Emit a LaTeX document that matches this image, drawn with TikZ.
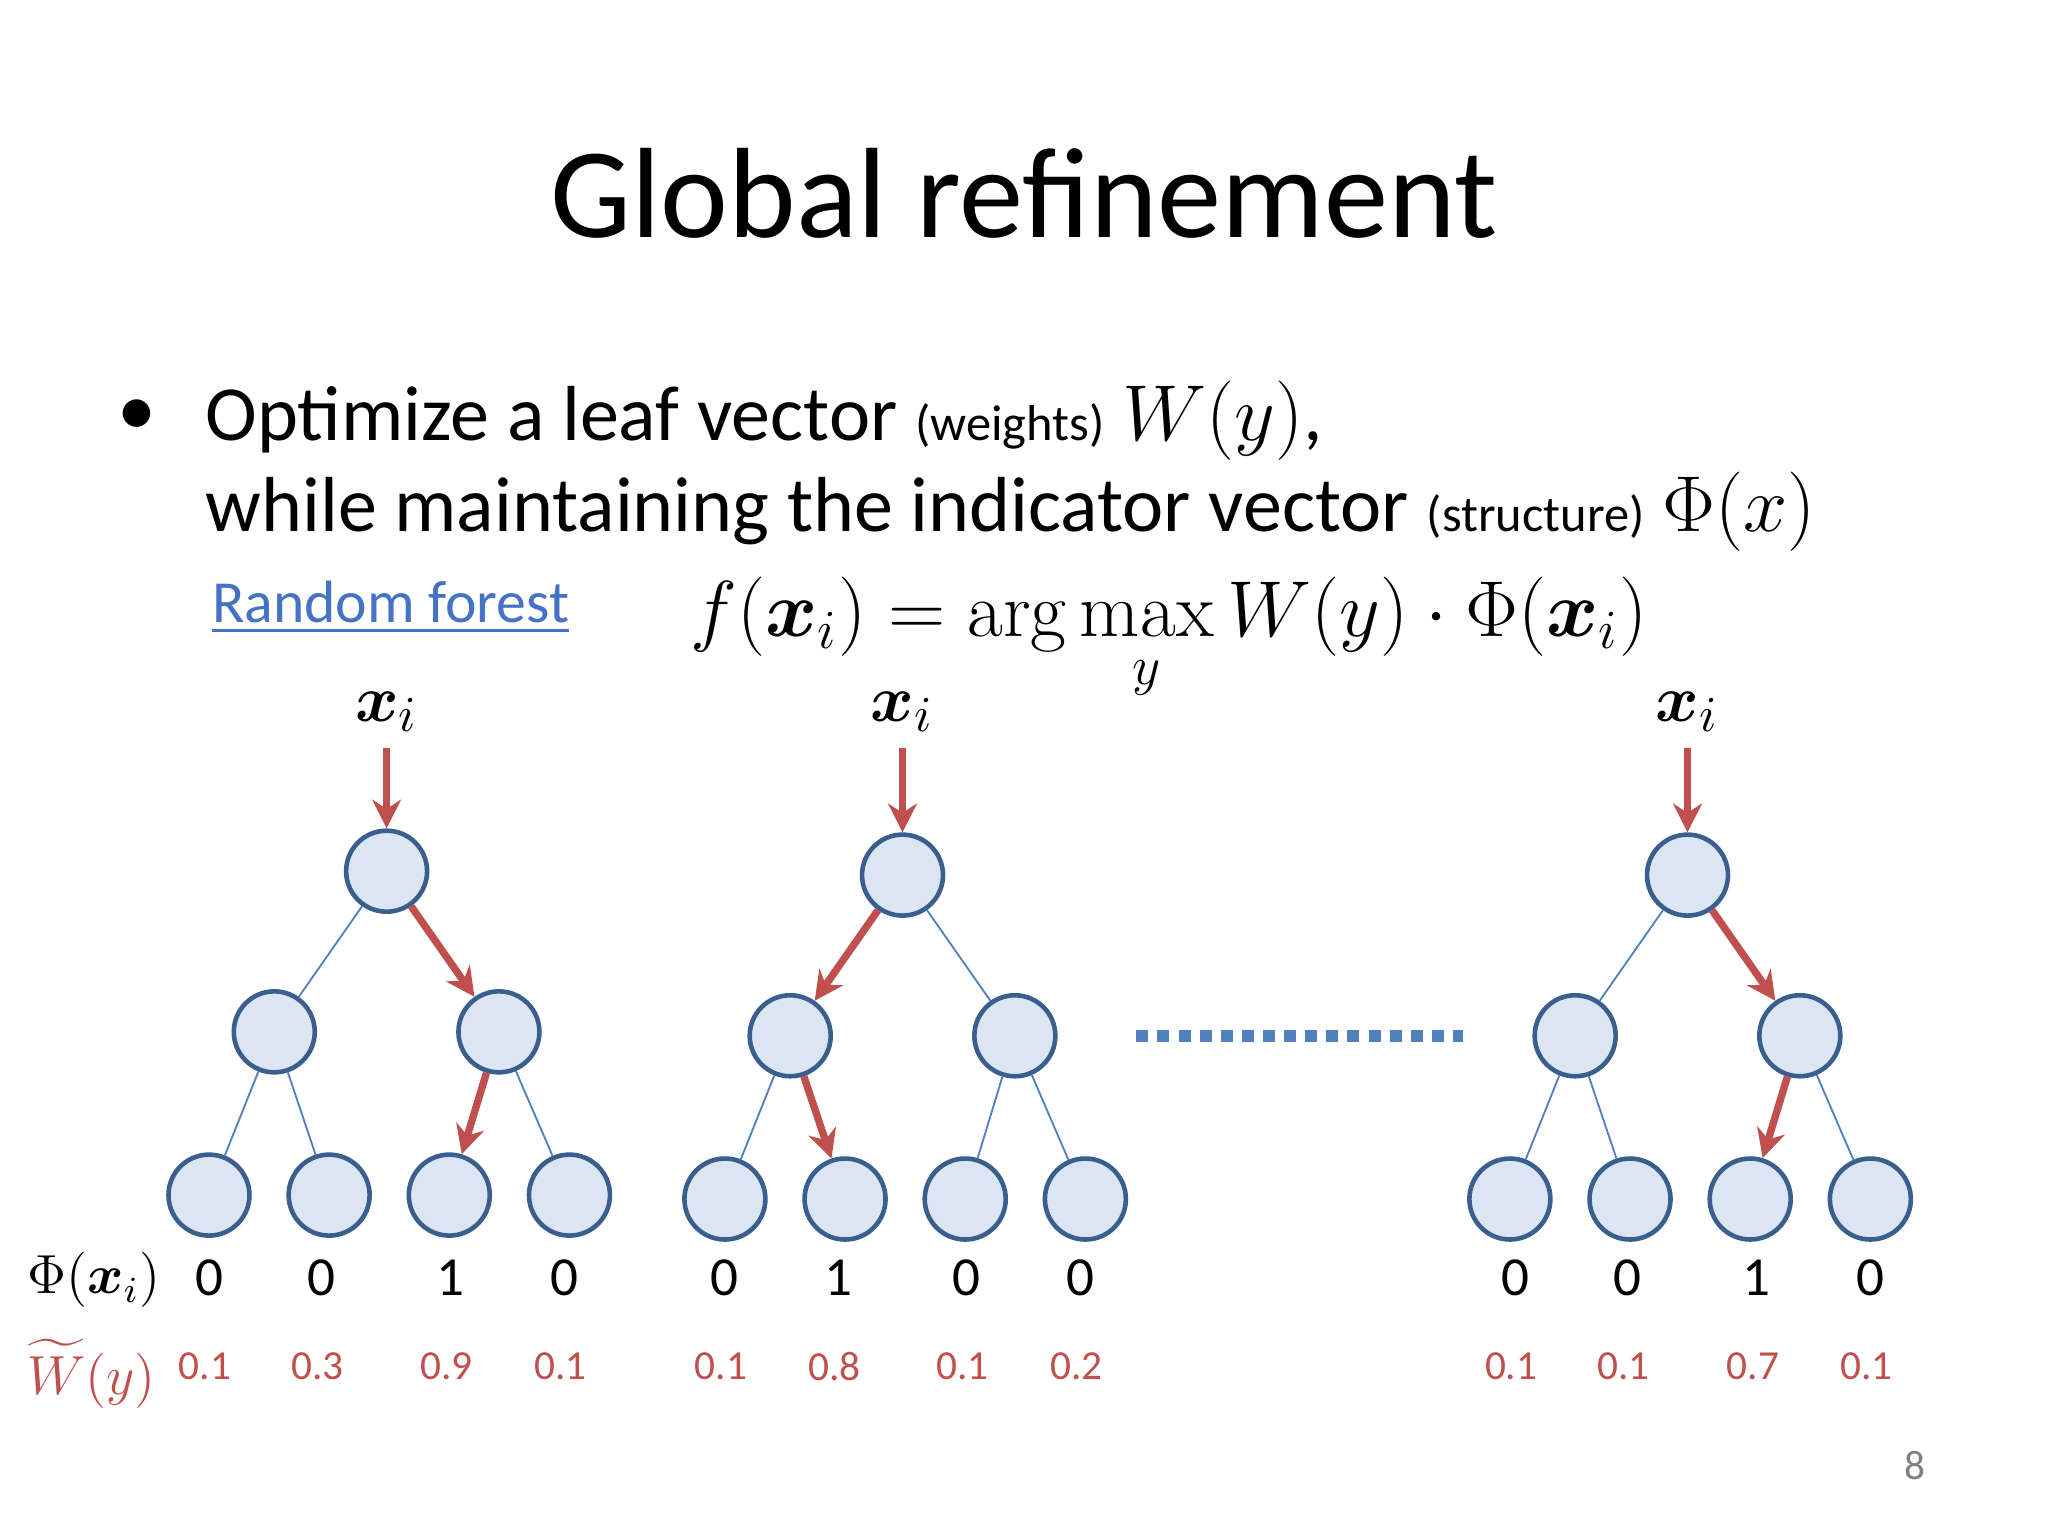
\documentclass[tikz,border=0pt]{standalone}
\usepackage{amsmath}
\usepackage{fontspec}
\setmainfont{Carlito}
\setmathrm{Latin Modern Roman}
\usetikzlibrary{arrows.meta}
\definecolor{nfill}{HTML}{DCE6F2}
\definecolor{nborder}{HTML}{3A5F8F}
\definecolor{ledge}{HTML}{4F81BD}
\definecolor{rarr}{HTML}{C0504D}
\definecolor{linkc}{HTML}{4472C4}
\tikzset{
 tn/.style={circle,draw=nborder,fill=nfill,line width=1pt,minimum size=6.2mm,inner sep=0pt},
 te/.style={draw=ledge,line width=0.4pt},
 ra/.style={draw=rarr,line width=1.6pt,-{Stealth[length=2.2mm,width=2.2mm]}},
 phi/.style={font=\fontsize{12}{14}\selectfont},
 wt/.style={font=\fontsize{9}{11}\selectfont,text=rarr},
}
\begin{document}
\begin{tikzpicture}[x=0.1mm,y=-0.1mm]
\useasboundingbox[fill=white] (0,0) rectangle (1568,1176);
\node[font=\fontsize{28}{32}\selectfont] (title) at (784,148) {Global refinement};
\node[font=\fontsize{17}{20}\selectfont] (bul) at (105,320) {\textbullet};
\node[anchor=west,font=\fontsize{17}{20}\selectfont] (l1) at (145,322) {Optimize a leaf vector {\fontsize{11}{12}\selectfont (weights)} $W(y)$,};
\node[anchor=west,font=\fontsize{17}{20}\selectfont] (l2) at (145,392) {while maintaining the indicator vector {\fontsize{11}{12}\selectfont (structure)} $\Phi(x)$};
\node[anchor=west,font=\fontsize{13}{15}\selectfont,text=linkc] (rf) at (150,465) {\underline{Random forest}};
\node[font=\fontsize{17}{20}\selectfont,inner sep=1pt] (eq) at (895,490) {$f(\boldsymbol{x}_i)=\arg\max\limits_{y} W(y)\cdot\Phi(\boldsymbol{x}_i)$};

\foreach \t/\rx/\ay in {a/296/667, b/691/670, c/1292/670}{
 \node[font=\fontsize{15}{17}\selectfont] (x\t) at (\rx,545) {$\boldsymbol{x}_i$};
 \node[tn] (\t r) at (\rx,\ay) {};
 \node[tn] (\t L) at (\rx-86,\ay+123) {};
 \node[tn] (\t R) at (\rx+86,\ay+123) {};
 \node[tn] (\t 1) at (\rx-136,\ay+248) {};
 \node[tn] (\t 2) at (\rx-44,\ay+248) {};
 \node[tn] (\t 3) at (\rx+48,\ay+248) {};
 \node[tn] (\t 4) at (\rx+140,\ay+248) {};
 \draw[ra] (x\t) -- (\t r);
}
\draw[te] (ar)--(aL); \draw[ra] (ar)--(aR);
\draw[te] (aL)--(a1); \draw[te] (aL)--(a2); \draw[ra] (aR)--(a3); \draw[te] (aR)--(a4);
\draw[ra] (br)--(bL); \draw[te] (br)--(bR);
\draw[te] (bL)--(b1); \draw[ra] (bL)--(b2); \draw[te] (bR)--(b3); \draw[te] (bR)--(b4);
\draw[te] (cr)--(cL); \draw[ra] (cr)--(cR);
\draw[te] (cL)--(c1); \draw[te] (cL)--(c2); \draw[ra] (cR)--(c3); \draw[te] (cR)--(c4);

\coordinate (d1) at (870,793); \coordinate (d2) at (1120,793);
\draw[ledge,line width=2.6pt,dash pattern=on 2.6pt off 2pt] (d1)--(d2);

\node[phi] (phl) at (72,980) {$\Phi(\boldsymbol{x}_i)$};
\node[text=rarr,font=\fontsize{12}{14}\selectfont,inner sep=1pt] (wl) at (70,1052) {$\widetilde{W}(y)$};
\foreach \x/\p/\w in {160/0/0.1,246/0/0.3,345/1/0.9,432/0/0.1,555/0/0.1,642/1/0.8,740/0/0.1,827/0/0.2,1160/0/0.1,1246/0/0.1,1345/1/0.7,1432/0/0.1}{
 \node[phi] at (\x,978) {\p};
 \node[wt] at (\x-3,1046) {\w};
}
\node[font=\fontsize{9}{11}\selectfont,text=gray] (pg) at (1466,1122) {8};
\end{tikzpicture}
\end{document}
